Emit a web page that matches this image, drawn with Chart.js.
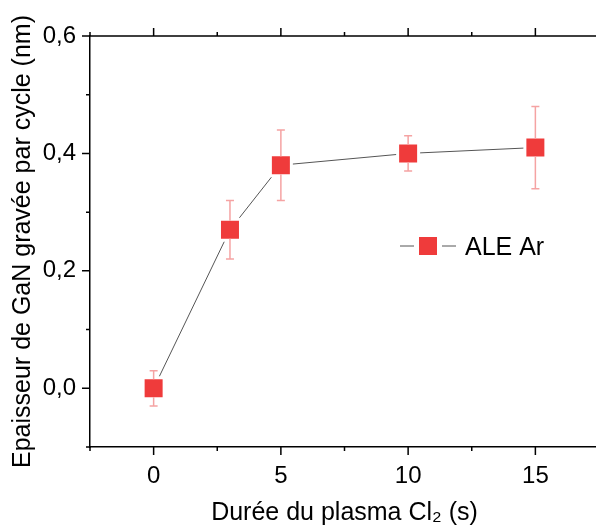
<!DOCTYPE html>
<html>
<head>
<meta charset="utf-8">
<script src="https://cdn.jsdelivr.net/npm/chart.js@4"></script>
<style>
  html, body { margin: 0; padding: 0; background: #fff; overflow: hidden; }
  canvas { display: block; }
</style>
</head>
<body>
<canvas id="ale" width="600" height="526"></canvas>
<script>
// data
const durations = [0, 3, 5, 10, 15];
const thickness = [0, 0.27, 0.38, 0.40, 0.41];
const errLow = [-0.03, 0.22, 0.32, 0.37, 0.34];
const errHigh = [0.03, 0.32, 0.44, 0.43, 0.48];
const seriesName = 'ALE Ar';

const FONT = "'Liberation Sans', Arial, sans-serif";
const RED = '#EF3B3B';
const HALF = 9; // half side of the square marker

// error bars, drawn from the marker edge outwards
const errorBars = {
  id: 'errorBars',
  afterDatasetsDraw(chart) {
    const ctx = chart.ctx, x = chart.scales.x, y = chart.scales.y;
    ctx.save();
    ctx.strokeStyle = '#F5A3A3';
    ctx.lineWidth = 1.5;
    durations.forEach((d, i) => {
      const px = x.getPixelForValue(d);
      const py = y.getPixelForValue(thickness[i]);
      const top = y.getPixelForValue(errHigh[i]);
      const bot = y.getPixelForValue(errLow[i]);
      ctx.beginPath();
      ctx.moveTo(px, py - HALF); ctx.lineTo(px, top);
      ctx.moveTo(px - 4, top); ctx.lineTo(px + 4, top);
      ctx.moveTo(px, py + HALF); ctx.lineTo(px, bot);
      ctx.moveTo(px - 4, bot); ctx.lineTo(px + 4, bot);
      ctx.stroke();
    });
    ctx.restore();
  }
};

// box frame with origin style ticks
const frame = {
  id: 'frame',
  afterDraw(chart) {
    const ctx = chart.ctx, a = chart.chartArea;
    const x = chart.scales.x, y = chart.scales.y;
    ctx.save();
    ctx.strokeStyle = '#000';
    ctx.lineWidth = 1.5;
    ctx.beginPath();
    ctx.moveTo(a.left, a.top); ctx.lineTo(a.right, a.top);
    x.ticks.forEach(t => {
      const px = x.getPixelForValue(t.value);
      const major = Math.abs(t.value % 5) < 1e-6;
      const len = major ? 8 : 4;
      ctx.moveTo(px, a.bottom); ctx.lineTo(px, a.bottom + len);
      ctx.moveTo(px, a.top); ctx.lineTo(px, a.top - len);
    });
    y.ticks.forEach(t => {
      const py = y.getPixelForValue(t.value);
      const major = Math.round(t.value * 10) % 2 === 0;
      const len = major ? 8 : 4;
      ctx.moveTo(a.left, py); ctx.lineTo(a.left - len, py);
    });
    ctx.stroke();
    ctx.restore();
  }
};

// legend inside the plot
const insideLegend = {
  id: 'insideLegend',
  afterDraw(chart) {
    const ctx = chart.ctx;
    const cx = 428, cy = 246;
    ctx.save();
    ctx.strokeStyle = '#555';
    ctx.lineWidth = 1;
    ctx.beginPath();
    ctx.moveTo(cx - 28, cy); ctx.lineTo(cx - 14, cy);
    ctx.moveTo(cx + 14, cy); ctx.lineTo(cx + 28, cy);
    ctx.stroke();
    ctx.fillStyle = RED;
    ctx.fillRect(cx - HALF, cy - HALF, HALF * 2, HALF * 2);
    ctx.fillStyle = '#000';
    ctx.font = '25px ' + FONT;
    ctx.textBaseline = 'alphabetic';
    ctx.fillText(seriesName, cx + 37, cy + 9);
    ctx.restore();
  }
};

new Chart(document.getElementById('ale'), {
  type: 'line',
  data: {
    labels: durations,
    datasets: [{
      label: seriesName,
      data: durations.map((d, i) => ({ x: d, y: thickness[i] })),
      borderColor: '#555',
      borderWidth: 1,
      pointStyle: 'rect',
      pointRadius: 14.85,
      pointBackgroundColor: RED,
      pointBorderColor: '#fff',
      pointBorderWidth: 3,
      tension: 0
    }]
  },
  options: {
    responsive: false,
    devicePixelRatio: 1,
    animation: false,
    layout: { autoPadding: false, padding: { top: 36, right: 1, left: 0, bottom: 0 } },
    plugins: { legend: { display: false }, tooltip: { enabled: false } },
    scales: {
      x: {
        type: 'linear',
        min: -2.5, max: 17.5,
        afterFit: s => { s.height = 79; },
        // tick marks are drawn by the frame plugin, the tick length only spaces the labels
        grid: { display: false, drawTicks: true, tickLength: 15 },
        border: { display: true, color: '#000', width: 1.5 },
        ticks: {
          stepSize: 2.5, autoSkip: false, maxRotation: 0, padding: 0,
          color: '#000', font: { family: FONT, size: 24 },
          callback: v => (Math.abs(v % 5) < 1e-6 ? String(v) : '')
        },
        title: {
          display: true, text: 'Durée du plasma Cl₂ (s)', color: '#000',
          font: { family: FONT, size: 25 }, padding: { top: 0, bottom: -2 }
        }
      },
      y: {
        min: -0.1, max: 0.6,
        afterFit: s => { s.width = 90; },
        grid: { display: false, drawTicks: true, tickLength: 14 },
        border: { display: true, color: '#000', width: 1.5 },
        ticks: {
          stepSize: 0.1, autoSkip: false, padding: 0,
          color: '#000', font: { family: FONT, size: 24 },
          callback: v => {
            const k = Math.round(v * 10);
            return k % 2 === 0 ? (k / 10).toFixed(1).replace('-', '').replace('.', ',') : '';
          }
        },
        title: {
          display: true, text: 'Epaisseur de GaN gravée par cycle (nm)', color: '#000',
          font: { family: FONT, size: 25 }, padding: { top: 8, bottom: 0 }
        }
      }
    }
  },
  plugins: [errorBars, frame, insideLegend]
});
</script>
</body>
</html>
